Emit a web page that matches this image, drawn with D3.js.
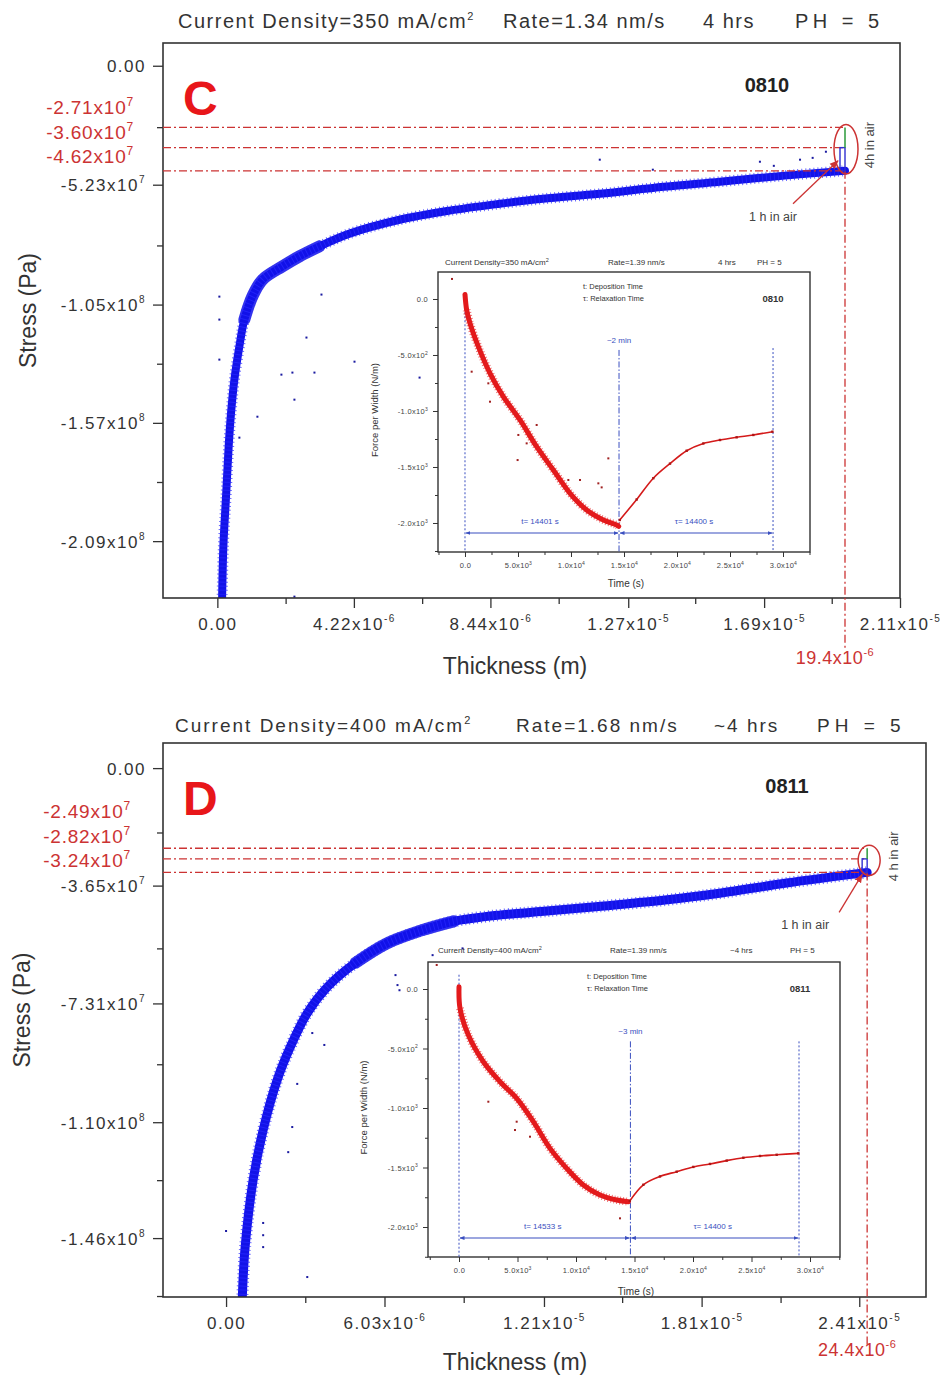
<!DOCTYPE html>
<html><head><meta charset="utf-8">
<script src="https://cdn.jsdelivr.net/npm/d3@7"></script>
<style>body{margin:0;background:#fff}svg{display:block}text{white-space:pre}</style>
</head><body><svg id="chart" width="947" height="1378"></svg>
<script>
// ===================== DATA =====================
// ---- Panel C (main) ----
const cTitle = ["Current Density=350 mA/cm^2", "Rate=1.34 nm/s", "4 hrs", "PH = 5"];
const cXDomain = [-1.68e-6, 2.11e-5];
const cYDomain = [1.0e7, -2.34e8];
const cXTicks = [0, 4.22e-6, 8.44e-6, 1.27e-5, 1.69e-5, 2.11e-5];
const cXTickLabels = ["0.00", "4.22x10^-6", "8.44x10^-6", "1.27x10^-5", "1.69x10^-5", "2.11x10^-5"];
const cYTicks = [0, -5.23e7, -1.05e8, -1.57e8, -2.09e8];
const cYTickLabels = ["0.00", "-5.23x10^7", "-1.05x10^8", "-1.57x10^8", "-2.09x10^8"];
const cBandThickness = [0.145e-6, 0.186e-6, 0.269e-6, 0.350e-6, 0.424e-6, 0.526e-6, 0.681e-6, 0.835e-6, 1.083e-6, 1.392e-6, 2.011e-6, 2.537e-6, 3.156e-6, 4.084e-6, 5.631e-6, 7.178e-6, 8.725e-6, 10.06e-6, 11.82e-6, 13.80e-6, 15.53e-6, 17.54e-6, 19.4e-6];
const cBandStress = [-23.6e7, -21.13e7, -18.93e7, -16.73e7, -15.25e7, -13.80e7, -12.34e7, -11.16e7, -10.14e7, -9.41e7, -8.82e7, -8.38e7, -7.94e7, -7.38e7, -6.77e7, -6.37e7, -6.07e7, -5.85e7, -5.63e7, -5.32e7, -5.10e7, -4.83e7, -4.62e7];
const cOutThickness = [0.062e-6, 0.062e-6, 0.062e-6, 1.980e-6, 2.320e-6, 3.001e-6, 2.382e-6, 1.238e-6, 0.681e-6, 2.754e-6, 3.218e-6, 2.382e-6, 4.239e-6, 6.250e-6, 16.77e-6, 18.01e-6, 18.81e-6, 11.82e-6, 13.46e-6, 17.2e-6, 18.4e-6];
const cOutStress = [-10.15e7, -11.16e7, -12.92e7, -13.58e7, -13.49e7, -13.49e7, -14.68e7, -15.43e7, -16.35e7, -11.95e7, -10.06e7, -23.34e7, -13.01e7, -13.71e7, -4.22e7, -4.13e7, -3.78e7, -4.13e7, -4.57e7, -4.40e7, -4.05e7];
const cAirThickness = 19.4e-6;
const cAirStress = [-2.71e7, -3.60e7, -4.62e7];
const cAirLabels = ["-2.71x10^7", "-3.60x10^7", "-4.62x10^7"];
const cAirThicknessLabel = "19.4x10^-6";

// ---- Panel C (inset) ----
const ciTitle = ["Current Density=350 mA/cm^2", "Rate=1.39 nm/s", "4 hrs", "PH = 5"];
const ciXDomain = [-2547, 32547];
const ciYDomain = [241, -2259];
const ciXTicks = [0, 5000, 10000, 15000, 20000, 25000, 30000];
const ciXTickLabels = ["0.0", "5.0x10^3", "1.0x10^4", "1.5x10^4", "2.0x10^4", "2.5x10^4", "3.0x10^4"];
const ciYTicks = [0, -500, -1000, -1500, -2000];
const ciYTickLabels = ["0.0", "-5.0x10^2", "-1.0x10^3", "-1.5x10^3", "-2.0x10^3"];
const ciDepTime = [0, 157, 472, 1258, 2358, 3616, 5189, 6761, 8333, 9906, 11478, 13050, 14308, 14500];
const ciDepForce = [40, -98, -217, -426, -664, -872, -1080, -1319, -1527, -1735, -1884, -1973, -2018, -2030];
const ciRelTime = [14600, 16195, 17767, 19339, 20911, 22484, 24056, 25628, 27200, 29000];
const ciRelForce = [-1973, -1790, -1600, -1470, -1355, -1290, -1259, -1235, -1214, -1185];
const ciOutTime = [-1226, 629, 2358, 2201, 5032, 4963, 5818, 6761, 9749, 10850, 12580, 12893, 13522];
const ciOutForce = [179, -649, -917, -753, -1214, -1438, -1289, -1125, -1616, -1616, -1646, -1682, -1423];
const ciMarkTime = [0, 14530, 29060];
const ciMarkTopForce = [60, -455, -438];
const ciSpanForce = -2090;
const ciSpanLabels = ["t= 14401 s", "τ= 14400 s"];
const ciGapLabel = "~2 min";
const ciCode = "0810";

// ---- Panel D (main) ----
const dTitle = ["Current Density=400 mA/cm^2", "Rate=1.68 nm/s", "~4 hrs", "PH = 5"];
const dXDomain = [-2.4e-6, 2.664e-5];
const dYDomain = [7.8e6, -1.643e8];
const dXTicks = [0, 6.03e-6, 1.21e-5, 1.81e-5, 2.41e-5];
const dXTickLabels = ["0.00", "6.03x10^-6", "1.21x10^-5", "1.81x10^-5", "2.41x10^-5"];
const dYTicks = [0, -3.65e7, -7.31e7, -1.10e8, -1.46e8];
const dYTickLabels = ["0.00", "-3.65x10^7", "-7.31x10^7", "-1.10x10^8", "-1.46x10^8"];
const dBandThickness = [0.611e-6, 0.725e-6, 1.030e-6, 1.412e-6, 1.946e-6, 2.442e-6, 3.091e-6, 3.854e-6, 4.923e-6, 6.106e-6, 7.403e-6, 8.663e-6, 10.46e-6, 12.10e-6, 14.27e-6, 16.71e-6, 18.85e-6, 21.33e-6, 24.4e-6];
const dBandStress = [-16.6e7, -14.88e7, -12.80e7, -11.24e7, -9.69e7, -8.67e7, -7.61e7, -6.80e7, -6.05e7, -5.45e7, -5.05e7, -4.76e7, -4.56e7, -4.45e7, -4.29e7, -4.10e7, -3.88e7, -3.57e7, -3.24e7];
const dOutThickness = [0, 2.519e-6, 2.366e-6, 1.412e-6, 1.412e-6, 1.412e-6, 3.091e-6, 2.709e-6, 3.740e-6, 3.282e-6, 6.449e-6, 6.525e-6, 6.600e-6, 7.861e-6, 8.434e-6, 9.0e-6];
const dOutStress = [-14.38e7, -11.15e7, -11.93e7, -14.13e7, -14.51e7, -14.88e7, -15.81e7, -9.81e7, -8.60e7, -8.23e7, -6.43e7, -6.74e7, -6.90e7, -5.81e7, -6.74e7, -5.60e7];
const dAirThickness = 24.4e-6;
const dAirStress = [-2.49e7, -2.82e7, -3.24e7];
const dAirLabels = ["-2.49x10^7", "-2.82x10^7", "-3.24x10^7"];
const dAirThicknessLabel = "24.4x10^-6";

// ---- Panel D (inset) ----
const diTitle = ["Current Density=400 mA/cm^2", "Rate=1.39 nm/s", "~4 hrs", "PH = 5"];
const diXDomain = [-2650, 32564];
const diYDomain = [227, -2252];
const diXTicks = [0, 5000, 10000, 15000, 20000, 25000, 30000];
const diXTickLabels = ["0.0", "5.0x10^3", "1.0x10^4", "1.5x10^4", "2.0x10^4", "2.5x10^4", "3.0x10^4"];
const diYTicks = [0, -500, -1000, -1500, -2000];
const diYTickLabels = ["0.0", "-5.0x10^2", "-1.0x10^3", "-1.5x10^3", "-2.0x10^3"];
const diDepTime = [0, 85, 797, 2080, 3504, 4929, 6353, 7778, 9202, 10627, 12051, 13476, 14473];
const diDepForce = [19, -162, -387, -611, -779, -919, -1115, -1339, -1507, -1647, -1731, -1773, -1787];
const diRelTime = [14600, 15755, 17179, 18604, 20028, 21453, 22877, 24302, 25726, 27151, 29003];
const diRelForce = [-1780, -1645, -1575, -1535, -1495, -1470, -1442, -1418, -1403, -1393, -1381];
const diOutTime = [-1906, 2507, 4929, 4786, 6068, 13761];
const diOutForce = [202, -947, -1115, -1185, -1241, -1927];
const diMarkTime = [0, 14650, 29060];
const diMarkTopForce = [120, -440, -440];
const diSpanForce = -2092;
const diSpanLabels = ["t= 14533 s", "τ= 14400 s"];
const diGapLabel = "~3 min";
const diCode = "0811";

// ===================== LAYOUT / STYLE =====================
const FONT = "'Liberation Sans', Arial, sans-serif";
const AX = "#333";
const RED = "#cc3333";
const BLUE = "#1212e8";
const IRED = "#e31a1c";
const IBLUE = "#3a4fc0";

const svg = d3.select("#chart");
svg.append("rect").attr("width", 947).attr("height", 1378).attr("fill", "#fff");
const defs = svg.append("defs");
function marker(id, color, w) {
  defs.append("marker").attr("id", id).attr("viewBox", "0 0 10 10")
    .attr("refX", 9).attr("refY", 5).attr("markerWidth", w).attr("markerHeight", w)
    .attr("orient", "auto-start-reverse").attr("markerUnits", "userSpaceOnUse")
    .append("path").attr("d", "M0,1L10,5L0,9z").attr("fill", color);
}
marker("arrRed", RED, 9);
marker("arrBlue", IBLUE, 5);

function addSup(sel, str, supSize, supDy) {
  const parts = str.split("^");
  sel.append("tspan").text(parts[0]);
  if (parts.length > 1) sel.append("tspan").attr("dy", -supDy).attr("font-size", supSize).text(parts[1]);
}

function drawAxes(g, x, y, L, xTicks, xLabels, yTicks, yLabels, xMinor, yMinor, S) {
  const xa = g.append("g").attr("transform", `translate(0,${L.bottom})`)
    .call(d3.axisBottom(x).tickValues(xTicks).tickSize(S.major).tickSizeOuter(0).tickPadding(S.xPad).tickFormat(() => ""))
    .attr("color", AX).attr("font-family", FONT).attr("font-size", S.font).attr("letter-spacing", S.ls);
  xa.select(".domain").remove();
  xa.selectAll(".tick line").attr("stroke-width", S.tw);
  xa.selectAll(".tick text").attr("dy", S.xDy).attr("fill", S.textColor).each(function (d, i) { addSup(d3.select(this), xLabels[i], S.sup, S.supDy); });
  const xm = g.append("g").attr("transform", `translate(0,${L.bottom})`)
    .call(d3.axisBottom(x).tickValues(xMinor).tickSize(S.minor).tickSizeOuter(0).tickFormat(() => "")).attr("color", AX);
  xm.select(".domain").remove();
  xm.selectAll(".tick line").attr("stroke-width", S.tw);

  const ya = g.append("g").attr("transform", `translate(${L.left},0)`)
    .call(d3.axisLeft(y).tickValues(yTicks).tickSize(S.major).tickSizeOuter(0).tickPadding(S.yPad).tickFormat(() => ""))
    .attr("color", AX).attr("font-family", FONT).attr("font-size", S.font).attr("letter-spacing", S.ls);
  ya.select(".domain").remove();
  ya.selectAll(".tick line").attr("stroke-width", S.tw);
  ya.selectAll(".tick text").attr("dy", "0.35em").attr("fill", S.textColor).each(function (d, i) { addSup(d3.select(this), yLabels[i], S.sup, S.supDy); });
  const ym = g.append("g").attr("transform", `translate(${L.left},0)`)
    .call(d3.axisLeft(y).tickValues(yMinor).tickSize(S.minor).tickSizeOuter(0).tickFormat(() => "")).attr("color", AX);
  ym.select(".domain").remove();
  ym.selectAll(".tick line").attr("stroke-width", S.tw);
}

// minor ticks halfway between majors, extended over the whole domain
function minorTicks(ticks, dom) {
  const t = ticks.slice().sort((a, b) => a - b);
  const half = (t[1] - t[0]) / 2;
  const lo = Math.min(dom[0], dom[1]), hi = Math.max(dom[0], dom[1]);
  const out = [];
  for (let k = -4; k < t.length + 4; k++) {
    const v = t[0] + half * (2 * k + 1);
    if (v >= lo && v <= hi) out.push(v);
  }
  return out;
}

function drawMain(L, D, id) {
  const x = d3.scaleLinear().domain(D.xDomain).range([L.left, L.right]);
  const y = d3.scaleLinear().domain(D.yDomain).range([L.top, L.bottom]);
  const g = svg.append("g");
  defs.append("clipPath").attr("id", "clip" + id).append("rect")
    .attr("x", L.left).attr("y", L.top).attr("width", L.right - L.left).attr("height", L.bottom - L.top);

  // title
  D.title.forEach((s, i) => {
    const t = g.append("text").attr("x", L.titleX[i]).attr("y", L.titleY).attr("font-family", FONT)
      .attr("font-size", L.titleSize).attr("letter-spacing", i === 3 ? L.titleLS + 3 : L.titleLS).attr("fill", "#333");
    addSup(t, s, 11, 8);
  });

  // data band (dense scatter)
  const pts = D.bandT.map((t, i) => [t, D.bandS[i]]);
  const line = d3.line().x(d => x(d[0])).y(d => y(d[1])).curve(d3.curveCatmullRom.alpha(0.5));
  const cg = g.append("g").attr("clip-path", `url(#clip${id})`);
  cg.append("path").attr("d", line(pts)).attr("fill", "none").attr("stroke", BLUE)
    .attr("stroke-width", L.bandW).attr("stroke-linejoin", "round").attr("stroke-linecap", "round");
  cg.append("path").attr("d", line(pts.slice(L.knee[0], L.knee[1]))).attr("fill", "none").attr("stroke", BLUE)
    .attr("stroke-width", L.kneeW).attr("stroke-linejoin", "round").attr("stroke-linecap", "round").attr("opacity", 0.85);
  cg.append("path").attr("d", line(pts)).attr("fill", "none").attr("stroke", "#2a2aff")
    .attr("stroke-width", L.bandW + 3).attr("stroke-dasharray", "1,3").attr("opacity", 0.7);
  cg.selectAll("rect.o").data(D.outT.map((t, i) => [t, D.outS[i]])).join("rect")
    .attr("x", d => x(d[0]) - 1).attr("y", d => y(d[1]) - 1).attr("width", 2).attr("height", 2).attr("fill", "#1a1aa0");

  // frame
  g.append("rect").attr("x", L.left).attr("y", L.top).attr("width", L.right - L.left).attr("height", L.bottom - L.top)
    .attr("fill", "none").attr("stroke", AX).attr("stroke-width", 1.6);

  drawAxes(g, x, y, L, D.xTicks, D.xLabels, D.yTicks, D.yLabels,
    minorTicks(D.xTicks, D.xDomain), minorTicks(D.yTicks, D.yDomain),
    { font: 17, ls: 1.5, sup: 10, supDy: 8, major: 10, minor: 6, xPad: 8, yPad: 7, xDy: L.xLabelDy, tw: 1.3, textColor: "#333" });

  // axis titles
  g.append("text").attr("x", L.xTitleX).attr("y", L.bottom + L.xTitleDy).attr("text-anchor", "middle")
    .attr("font-family", FONT).attr("font-size", 23).attr("fill", "#333").text("Thickness (m)");
  g.append("text").attr("transform", `translate(${L.yTitleX},${(L.top + L.bottom) / 2 - 10}) rotate(-90)`).attr("text-anchor", "middle")
    .attr("font-family", FONT).attr("font-size", 23).attr("fill", "#333").text("Stress (Pa)");

  // air relaxation annotations
  const ax = x(D.airT);
  D.airS.forEach((v, i) => {
    g.append("line").attr("x1", L.left).attr("x2", ax).attr("y1", y(v)).attr("y2", y(v))
      .attr("stroke", RED).attr("stroke-width", 1.3).attr("stroke-dasharray", "8,3,2,3");
    const t = g.append("text").attr("x", L.redLabelX).attr("y", L.redLabelY0 + i * 24.5).attr("text-anchor", "end")
      .attr("font-family", FONT).attr("font-size", 19).attr("letter-spacing", 0.8).attr("fill", RED);
    addSup(t, D.airLabels[i], 12, 8);
  });
  g.append("line").attr("x1", ax).attr("x2", ax).attr("y1", y(D.airS[2])).attr("y2", L.bottom + L.vExt)
    .attr("stroke", RED).attr("stroke-width", 1.3).attr("stroke-dasharray", "8,3,2,3");
  const bl = g.append("text").attr("x", ax + L.bottomLabelDx).attr("y", L.bottom + L.bottomLabelDy).attr("text-anchor", "middle")
    .attr("font-family", FONT).attr("font-size", 18).attr("letter-spacing", 0.5).attr("fill", RED);
  addSup(bl, D.airTLabel, 11, 8);
  // 1h (blue) and 4h (green) recovery
  g.append("rect").attr("x", ax - 5).attr("width", 5).attr("y", y(D.airS[1])).attr("height", y(D.airS[2]) - y(D.airS[1]))
    .attr("fill", "none").attr("stroke", "#3030d0").attr("stroke-width", 1.4);
  g.append("line").attr("x1", ax).attr("x2", ax).attr("y1", y(D.airS[0])).attr("y2", y(D.airS[1]))
    .attr("stroke", "#2a9a3a").attr("stroke-width", 1.5);
  const ey0 = y(D.airS[0]), ey2 = y(D.airS[2]);
  g.append("ellipse").attr("cx", ax + L.ellDx).attr("cy", (ey0 + ey2) / 2).attr("rx", L.ellRx).attr("ry", (ey2 - ey0) / 2 + 3)
    .attr("fill", "none").attr("stroke", RED).attr("stroke-width", 1.5);
  // 1 h in air label + arrow
  g.append("text").attr("x", ax + L.oneHDx).attr("y", ey2 + L.oneHDy).attr("text-anchor", "middle")
    .attr("font-family", FONT).attr("font-size", 12.5).attr("fill", "#444").text("1 h in air");
  g.append("line").attr("x1", ax + L.arrow[0]).attr("y1", ey2 + L.arrow[1]).attr("x2", ax + L.arrow[2]).attr("y2", ey2 + L.arrow[3])
    .attr("stroke", RED).attr("stroke-width", 1.3).attr("marker-end", "url(#arrRed)");
  g.append("text").attr("transform", `translate(${ax + L.fourHDx},${(ey0 + ey2) / 2 - 4}) rotate(-90)`).attr("text-anchor", "middle")
    .attr("font-family", FONT).attr("font-size", 13).attr("fill", "#444").text(L.fourHText);

  // panel letter and code
  g.append("text").attr("x", L.left + 20).attr("y", L.top + L.letterDy).attr("font-family", FONT).attr("font-weight", "bold")
    .attr("font-size", 48).attr("fill", "#e8161a").text(L.letter);
  g.append("text").attr("x", L.codeX).attr("y", L.top + L.codeDy).attr("text-anchor", "middle").attr("font-family", FONT)
    .attr("font-weight", "bold").attr("font-size", 20).attr("fill", "#222").text(L.code);
}

function drawInset(L, D) {
  const x = d3.scaleLinear().domain(D.xDomain).range([L.left, L.right]);
  const y = d3.scaleLinear().domain(D.yDomain).range([L.top, L.bottom]);
  const g = svg.append("g");
  g.append("rect").attr("x", L.left).attr("y", L.top).attr("width", L.right - L.left).attr("height", L.bottom - L.top)
    .attr("fill", "#fff").attr("stroke", AX).attr("stroke-width", 1.4);

  // title
  D.title.forEach((s, i) => {
    const t = g.append("text").attr("x", L.titleX[i]).attr("y", L.titleY).attr("font-family", FONT)
      .attr("font-size", 8).attr("fill", "#333");
    addSup(t, s, 5.5, 3.5);
  });

  drawAxes(g, x, y, L, D.xTicks, D.xLabels, D.yTicks, D.yLabels,
    minorTicks(D.xTicks, D.xDomain), minorTicks(D.yTicks, D.yDomain),
    { font: 7.5, ls: 0.3, sup: 5, supDy: 3.5, major: 5, minor: 3, xPad: 6, yPad: 5, xDy: "0.71em", tw: 1, textColor: "#444" });

  g.append("text").attr("x", (L.left + L.right) / 2 + 2).attr("y", L.bottom + L.xTitleDy).attr("text-anchor", "middle")
    .attr("font-family", FONT).attr("font-size", 10).attr("fill", "#333").text("Time (s)");
  g.append("text").attr("transform", `translate(${L.yTitleX},${(L.top + L.bottom) / 2 - 2}) rotate(-90)`).attr("text-anchor", "middle")
    .attr("font-family", FONT).attr("font-size", 9.5).attr("fill", "#333").text("Force per Width (N/m)");

  // marker lines
  D.markT.forEach((t, i) => {
    g.append("line").attr("x1", x(t)).attr("x2", x(t)).attr("y1", y(D.markTop[i])).attr("y2", L.bottom)
      .attr("stroke", IBLUE).attr("stroke-width", 1).attr("stroke-dasharray", i === 1 ? "6,2,1.5,2" : "2,2");
  });
  // spans
  const sy = y(D.spanF);
  [[D.markT[0], D.markT[1]], [D.markT[1], D.markT[2]]].forEach((s, i) => {
    g.append("line").attr("x1", x(s[0]) + 1).attr("x2", x(s[1]) - 1).attr("y1", sy).attr("y2", sy)
      .attr("stroke", IBLUE).attr("stroke-width", 1.1)
      .attr("marker-start", "url(#arrBlue)").attr("marker-end", "url(#arrBlue)");
    g.append("text").attr("x", (x(s[0]) + x(s[1])) / 2 - 2).attr("y", sy - 9).attr("text-anchor", "middle")
      .attr("font-family", FONT).attr("font-size", 8).attr("fill", IBLUE).text(D.spanLabels[i]);
  });
  g.append("text").attr("x", x(D.markT[1])).attr("y", y(D.markTop[1]) - 7).attr("text-anchor", "middle")
    .attr("font-family", FONT).attr("font-size", 8).attr("fill", IBLUE).text(D.gapLabel);

  // curves
  const line = d3.line().x(d => x(d[0])).y(d => y(d[1])).curve(d3.curveCatmullRom.alpha(0.5));
  const dep = D.depT.map((t, i) => [t, D.depF[i]]);
  g.append("path").attr("d", line(dep)).attr("fill", "none").attr("stroke", IRED).attr("stroke-width", 5)
    .attr("stroke-linejoin", "round").attr("stroke-linecap", "round");
  g.append("path").attr("d", line(dep.slice(1))).attr("fill", "none").attr("stroke", IRED).attr("stroke-width", 8)
    .attr("stroke-dasharray", "1,2").attr("opacity", 0.6);
  const rel = D.relT.map((t, i) => [t, D.relF[i]]);
  g.append("path").attr("d", line(rel)).attr("fill", "none").attr("stroke", "#d41a1a").attr("stroke-width", 1.6);
  g.selectAll("rect.ro").data(rel).join("rect").attr("x", d => x(d[0]) - 1.2).attr("y", d => y(d[1]) - 1.2)
    .attr("width", 2.4).attr("height", 2.4).attr("fill", "#b01515");
  g.selectAll("rect.io").data(D.outT.map((t, i) => [t, D.outF[i]])).join("rect")
    .attr("x", d => x(d[0]) - 1).attr("y", d => y(d[1]) - 1).attr("width", 2).attr("height", 2).attr("fill", "#a02020");

  // legend & code
  g.append("text").attr("x", L.legX).attr("y", L.legY).attr("font-family", FONT).attr("font-size", 7.5).attr("fill", "#333").text("t: Deposition Time");
  g.append("text").attr("x", L.legX).attr("y", L.legY + 12).attr("font-family", FONT).attr("font-size", 7.5).attr("fill", "#333").text("τ: Relaxation Time");
  g.append("text").attr("x", L.codeX).attr("y", L.legY + 13).attr("text-anchor", "middle").attr("font-family", FONT)
    .attr("font-weight", "bold").attr("font-size", 9.5).attr("fill", "#333").text(D.code);
}

// ===================== RENDER =====================
drawMain({ left: 163, right: 900, top: 43, bottom: 598, titleX: [178, 503, 703, 795], titleY: 28, titleSize: 20, titleLS: 1.5,
  bandW: 8, knee: [7, 13], kneeW: 12, xLabelDy: "0.85em", xTitleX: 515, xTitleDy: 76, yTitleX: 36,
  redLabelX: 134, redLabelY0: 114, vExt: 52, bottomLabelDx: -10, bottomLabelDy: 66,
  ellDx: 1, ellRx: 12, oneHDx: -72, oneHDy: 50, arrow: [-52, 33, -7, -10], fourHDx: 29, fourHText: "4h in air",
  letter: "C", letterDy: 72, codeX: 767, codeDy: 49, code: "0810" },
  { title: cTitle, xDomain: cXDomain, yDomain: cYDomain, xTicks: cXTicks, xLabels: cXTickLabels, yTicks: cYTicks, yLabels: cYTickLabels,
    bandT: cBandThickness, bandS: cBandStress, outT: cOutThickness, outS: cOutStress,
    airT: cAirThickness, airS: cAirStress, airLabels: cAirLabels, airTLabel: cAirThicknessLabel }, "C");

drawInset({ left: 438, right: 810, top: 272, bottom: 552, titleX: [445, 608, 718, 757], titleY: 265,
  xTitleDy: 35, yTitleX: 378, legX: 583, legY: 289, codeX: 773 },
  { title: ciTitle, xDomain: ciXDomain, yDomain: ciYDomain, xTicks: ciXTicks, xLabels: ciXTickLabels, yTicks: ciYTicks, yLabels: ciYTickLabels,
    depT: ciDepTime, depF: ciDepForce, relT: ciRelTime, relF: ciRelForce, outT: ciOutTime, outF: ciOutForce,
    markT: ciMarkTime, markTop: ciMarkTopForce, spanF: ciSpanForce, spanLabels: ciSpanLabels, gapLabel: ciGapLabel, code: ciCode });

drawMain({ left: 163, right: 926, top: 743, bottom: 1297, titleX: [175, 516, 714, 817], titleY: 732, titleSize: 19, titleLS: 2.0,
  bandW: 9, knee: [8, 12], kneeW: 12, xLabelDy: "0.85em", xTitleX: 515, xTitleDy: 73, yTitleX: 30,
  redLabelX: 131, redLabelY0: 818, vExt: 50, bottomLabelDx: -10, bottomLabelDy: 59,
  ellDx: 2, ellRx: 11, oneHDx: -62, oneHDy: 57, arrow: [-28, 40, -5, 2], fourHDx: 31, fourHText: "4 h in air",
  letter: "D", letterDy: 72, codeX: 787, codeDy: 50, code: "0811" },
  { title: dTitle, xDomain: dXDomain, yDomain: dYDomain, xTicks: dXTicks, xLabels: dXTickLabels, yTicks: dYTicks, yLabels: dYTickLabels,
    bandT: dBandThickness, bandS: dBandStress, outT: dOutThickness, outS: dOutStress,
    airT: dAirThickness, airS: dAirStress, airLabels: dAirLabels, airTLabel: dAirThicknessLabel }, "D");

drawInset({ left: 428, right: 840, top: 962, bottom: 1257, titleX: [438, 610, 730, 790], titleY: 953,
  xTitleDy: 38, yTitleX: 367, legX: 587, legY: 979, codeX: 800 },
  { title: diTitle, xDomain: diXDomain, yDomain: diYDomain, xTicks: diXTicks, xLabels: diXTickLabels, yTicks: diYTicks, yLabels: diYTickLabels,
    depT: diDepTime, depF: diDepForce, relT: diRelTime, relF: diRelForce, outT: diOutTime, outF: diOutForce,
    markT: diMarkTime, markTop: diMarkTopForce, spanF: diSpanForce, spanLabels: diSpanLabels, gapLabel: diGapLabel, code: diCode });
</script>
</body></html>
